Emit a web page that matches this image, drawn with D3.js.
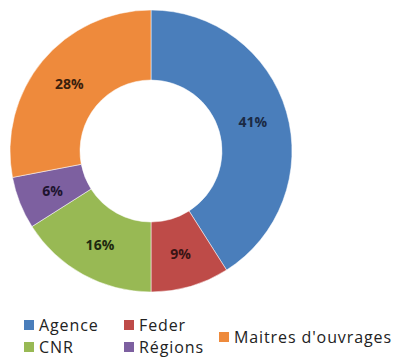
<!DOCTYPE html>
<html><head><meta charset="utf-8">
<script src="https://cdn.jsdelivr.net/npm/d3@7/dist/d3.min.js"></script>
<style>body{margin:0;background:#fff}svg{display:block}</style>
</head><body>
<svg id="c" width="397" height="358"></svg>
<script>
const categories = ["Agence", "Feder", "CNR", "Régions", "Maitres d'ouvrages"];
const values = [41, 9, 16, 6, 28];
const colors = ["#4A7EBB", "#BE4B48", "#98B954", "#7D60A0", "#EE8A3C"];
const textColors = ["#1b2a44", "#3a1414", "#1e2a10", "#1e1430", "#3a200c"];

const svg = d3.select("#c");
const cx = 151, cy = 151, rOut = 141, rIn = 71;
const pie = d3.pie().sort(null).value(d => d)(values);
const arc = d3.arc().innerRadius(rIn).outerRadius(rOut);
const g = svg.append("g").attr("transform", `translate(${cx},${cy})`);
g.selectAll("path").data(pie).join("path")
  .attr("d", arc)
  .attr("fill", (d, i) => colors[i])
  .attr("stroke", "#ffffff").attr("stroke-opacity", 0.5).attr("stroke-width", 1);
g.selectAll("text").data(pie).join("text")
  .attr("transform", d => { const c = arc.centroid(d); return `translate(${c[0]},${c[1] + 2})`; })
  .attr("text-anchor", "middle").attr("dominant-baseline", "middle")
  .attr("font-family", "'Open Sans', sans-serif").attr("font-weight", "bold").attr("font-size", 14)
  .attr("fill", (d, i) => textColors[i])
  .text(d => d.data + "%");

// legend
const legendPos = [[24, 320], [124, 320], [24, 342], [124, 342], [219, 332]];
const lg = svg.append("g");
categories.forEach((c, i) => {
  const [x, y] = legendPos[i];
  lg.append("rect").attr("x", x).attr("y", y).attr("width", 10).attr("height", 10).attr("fill", colors[i]);
  lg.append("text").attr("x", x + 15).attr("y", y + 10.5)
    .attr("font-family", "'Open Sans', sans-serif").attr("font-size", 16)
    .attr("letter-spacing", 0.9).attr("fill", "#222")
    .text(c);
});
</script>
</body></html>
